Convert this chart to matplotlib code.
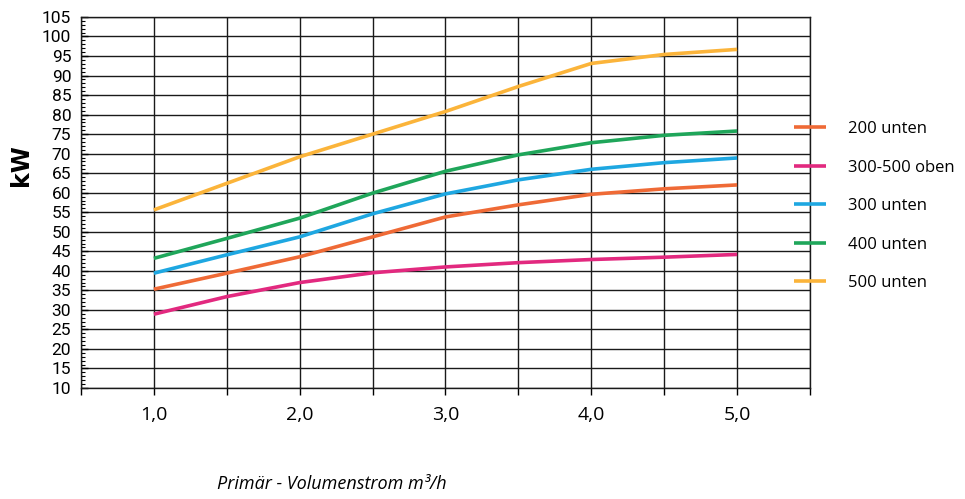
import matplotlib
matplotlib.use("Agg")
import matplotlib.pyplot as plt
from matplotlib.ticker import MultipleLocator, FuncFormatter

# Volumenstrom (m3/h) and Leistung (kW)
flow = [1.0, 1.5, 2.0, 2.5, 3.0, 3.5, 4.0, 4.5, 5.0]
kw_200_unten = [35.3, 39.4, 43.6, 48.7, 53.8, 56.9, 59.6, 61.0, 62.0]
kw_300_500_oben = [28.9, 33.4, 37.0, 39.5, 41.0, 42.1, 42.9, 43.5, 44.2]
kw_300_unten = [39.4, 44.1, 48.7, 54.6, 59.7, 63.3, 66.0, 67.7, 68.9]
kw_400_unten = [43.2, 48.3, 53.5, 59.9, 65.5, 69.7, 72.8, 74.7, 75.8]
kw_500_unten = [55.6, 62.4, 69.2, 75.0, 80.8, 87.2, 93.1, 95.4, 96.7]

labels = ["200 unten", "300-500 oben", "300 unten", "400 unten", "500 unten"]
colors = ["#ef6a36", "#e2297f", "#1ea7e1", "#1fa65a", "#fbb43a"]
series = [kw_200_unten, kw_300_500_oben, kw_300_unten, kw_400_unten, kw_500_unten]

fig = plt.figure(figsize=(9.65, 4.99), dpi=100)
ax = fig.add_axes([0.0839, 0.2224, 0.7555, 0.7436])

for vals, col, lab in zip(series, colors, labels):
    ax.plot(flow, vals, color=col, lw=2.6, label=lab, solid_capstyle="butt", zorder=3)

ax.set_xlim(0.5, 5.5)
ax.set_ylim(10, 105)

ax.xaxis.set_major_locator(MultipleLocator(0.5))
ax.xaxis.set_major_formatter(FuncFormatter(
    lambda v, p: ("%.1f" % v).replace(".", ",") if abs(v - round(v)) < 1e-6 else ""))
ax.yaxis.set_major_locator(MultipleLocator(5))
ax.yaxis.set_minor_locator(MultipleLocator(1))

ax.grid(True, which="major", color="#1a1a1a", lw=1.0)
for side in ["left", "top", "right", "bottom"]:
    ax.spines[side].set_color("#1a1a1a")
    ax.spines[side].set_linewidth(1.0)

ax.tick_params(axis="x", direction="out", length=5, width=1.0, pad=8, labelsize=14)
ax.tick_params(axis="y", which="major", direction="in", length=5, width=1.0, pad=7, labelsize=12.5)
ax.tick_params(axis="y", which="minor", direction="in", length=3, width=0.8)

for t in ax.get_yticklabels():
    t.set_family("Roboto")
for t in ax.get_xticklabels():
    t.set_family("Open Sans")

ax.set_ylabel("kW", fontsize=17, fontweight="bold")
ax.yaxis.set_label_coords(-0.066, 0.6)

fig.text(0.344, 0.012, "Primär - Volumenstrom m³/h", fontsize=13, style="italic",
         family="Open Sans", ha="center", va="bottom")

fig.legend(loc="upper left", bbox_to_anchor=(0.8076, 0.787), frameon=False,
           handlelength=1.9, handletextpad=1.3, labelspacing=1.35,
           prop={"family": "Open Sans", "size": 12})

fig.savefig("out.png", dpi=100)
